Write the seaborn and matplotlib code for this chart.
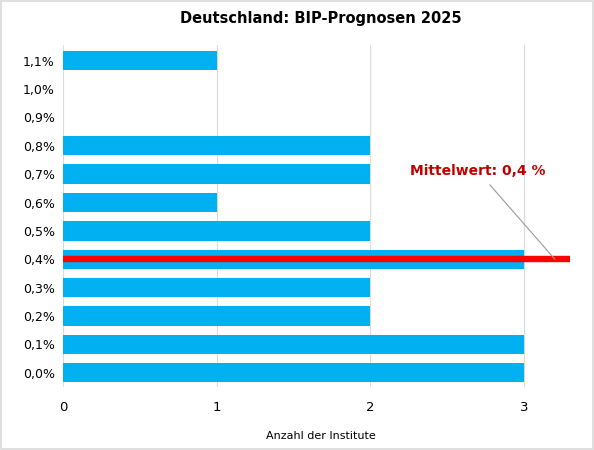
import matplotlib.pyplot as plt
import seaborn as sns
import pandas as pd

# Prognosen (Kategorie) und Anzahl der Institute
categories = ['1,1%', '1,0%', '0,9%', '0,8%', '0,7%', '0,6%',
              '0,5%', '0,4%', '0,3%', '0,2%', '0,1%', '0,0%']
counts = [1, 0, 0, 2, 2, 1, 2, 3, 2, 2, 3, 3]
mean_label = '0,4%'
mean_text = 'Mittelwert: 0,4 %'
mean_line_end = 3.3

df = pd.DataFrame({'prognose': categories, 'anzahl': counts})

sns.set_style('white')
plt.rcParams['font.family'] = ['DejaVu Sans']
plt.rcParams['text.color'] = 'black'
plt.rcParams['xtick.color'] = 'black'
plt.rcParams['ytick.color'] = 'black'
plt.rcParams['axes.labelcolor'] = 'black'

fig = plt.figure(figsize=(5.94, 4.5), dpi=100)
ax = fig.add_axes([0.106, 0.14, 0.867, 0.76])

sns.barplot(data=df, x='anzahl', y='prognose', order=categories,
            color='#00B0F0', saturation=1, width=0.68, linewidth=0, ax=ax, zorder=2)

ypos = categories.index(mean_label)
ax.plot([0, mean_line_end], [ypos, ypos], color='#FF0000', linewidth=4.6,
        solid_capstyle='butt', zorder=3)
ax.annotate(mean_text, xy=(3.2, ypos), xytext=(2.7, ypos - 3.1),
            color='#C00000', fontsize=10, fontweight='bold', ha='center', va='center',
            arrowprops=dict(arrowstyle='-', color='#999999', lw=0.8,
                            shrinkA=3, shrinkB=0))

ax.set_xlim(0, 3.35)
ax.set_ylim(len(categories) - 0.5, -0.55)
ax.set_xticks([0, 1, 2, 3])
ax.grid(axis='x', color='#D9D9D9', linewidth=0.8, zorder=0)
ax.set_axisbelow(True)
for s in ax.spines.values():
    s.set_visible(False)
ax.tick_params(axis='y', length=0, labelsize=9, pad=6)
ax.tick_params(axis='x', length=0, labelsize=9.5, pad=10)

ax.set_ylabel('')
ax.set_xlabel('Anzahl der Institute', fontsize=8, labelpad=12)
ax.set_title('Deutschland: BIP-Prognosen 2025', fontsize=10.5, fontweight='bold', pad=16)

fig.patches.append(plt.Rectangle((0.002, 0.002), 0.996, 0.996, transform=fig.transFigure,
                                 fill=False, edgecolor='#D9D9D9', linewidth=1.2))

fig.savefig('out.png', dpi=100)
